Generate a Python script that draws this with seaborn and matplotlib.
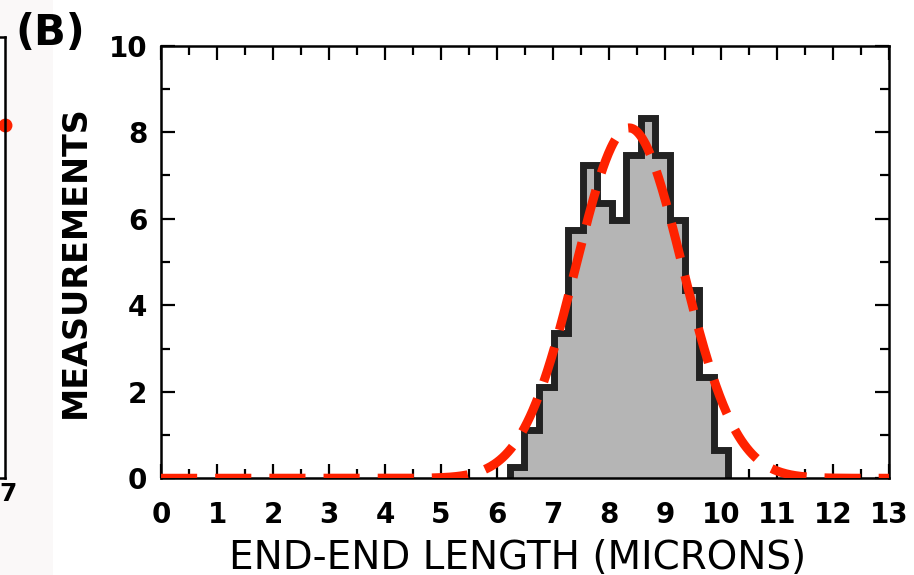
import numpy as np
import pandas as pd
import matplotlib
matplotlib.use("Agg")
import matplotlib.pyplot as plt
import matplotlib.transforms as mtransforms
from matplotlib.ticker import MultipleLocator
from matplotlib.patches import Rectangle
import seaborn as sns

# ---- data ----
bin_edges = [6.23, 6.49, 6.75, 7.01, 7.27, 7.53, 7.79, 8.05, 8.31, 8.57,
             8.83, 9.09, 9.35, 9.61, 9.87, 10.13]
counts = [0.27, 1.12, 2.12, 3.37, 5.75, 7.24, 6.37, 5.98, 7.48, 8.33,
          7.48, 5.98, 4.36, 2.35, 0.66]
# Gaussian fit parameters (red dashed curve)
fit_amplitude = 8.1
fit_mean = 8.36
fit_sigma = 0.95
x_ticks = list(range(0, 14))
y_ticks = [0, 2, 4, 6, 8, 10]
panel_label = "(B)"
x_label = "END-END LENGTH (MICRONS)"
y_label = "MEASUREMENTS"
# neighbouring (cropped) panel A
left_tick = [7]
left_point_y = [0.8]

sns.set_style("ticks")
plt.rcParams["font.family"] = ["DejaVu Sans"]
plt.rcParams["text.color"] = "black"
plt.rcParams["axes.labelcolor"] = "black"
plt.rcParams["xtick.color"] = "black"
plt.rcParams["ytick.color"] = "black"

fig = plt.figure(figsize=(9.14, 5.75), dpi=100)
fig.patches.append(Rectangle((0, 0), 53 / 914, 1, transform=fig.transFigure,
                             facecolor="#faf8f8", edgecolor="none", zorder=-5))

ax = fig.add_axes([0.1762, 0.1682, 0.7964, 0.7523])

centers = [(a + b) / 2 for a, b in zip(bin_edges[:-1], bin_edges[1:])]
df = pd.DataFrame({"length": centers, "count": counts})
sns.histplot(data=df, x="length", weights="count", bins=bin_edges,
             element="step", fill=True, color="#b5b5b5", alpha=1,
             linewidth=0, ax=ax, zorder=1)
st = ax.stairs(counts, bin_edges, baseline=0, color="#222222",
               linewidth=5, zorder=2)
st.set_joinstyle("miter")

xs = np.linspace(0, 13, 800)
ys = fit_amplitude * np.exp(-(xs - fit_mean) ** 2 / (2 * fit_sigma ** 2))
sns.lineplot(x=xs, y=ys, color="#ff2200", linewidth=6.5, ax=ax, zorder=3)
ln = ax.lines[-1]
ln.set_dashes((4, 2))
ln.set_dash_capstyle("butt")

ax.set_xlim(0, 13)
ax.set_ylim(0, 10)
ax.set_xticks(x_ticks)
ax.set_yticks(y_ticks)
ax.xaxis.set_minor_locator(MultipleLocator(0.5))
ax.yaxis.set_minor_locator(MultipleLocator(1))
ax.tick_params(which="both", direction="in", top=True, right=True,
               width=1.6, color="black", labelcolor="black")
ax.tick_params(which="major", length=10)
ax.tick_params(which="minor", length=6.5)
ax.tick_params(axis="x", which="major", pad=16, labelsize=20)
ax.tick_params(axis="y", which="major", pad=10, labelsize=20)
for lab in ax.get_xticklabels() + ax.get_yticklabels():
    lab.set_fontweight("bold")
for sp in ax.spines.values():
    sp.set_visible(True)
    sp.set_linewidth(1.8)
    sp.set_color("black")

ax.set_xlabel(x_label, fontsize=28, fontweight="normal", color="black")
ax.set_ylabel(y_label, fontsize=24, fontweight="bold", color="black")
ax.xaxis.set_label_coords(0.49, -0.14)
ax.yaxis.set_label_coords(-0.095, 0.5)

fig.text(15 / 914, 1 - 12 / 575, panel_label, ha="left", va="top",
         fontsize=30, fontweight="bold", color="black")

# cropped neighbouring panel
ax0 = fig.add_axes([-0.3, 0.1682, 0.3055, 0.9357 - 0.1682])
ax0.set_xlim(0, 7)
ax0.set_ylim(0, 1)
ax0.set_xticks(left_tick)
ax0.set_xticklabels([str(t) for t in left_tick], fontsize=18, fontweight="bold",
                    color="black")
ax0.set_yticks([])
ax0.tick_params(axis="x", direction="in", length=0, pad=3)
shift = mtransforms.ScaledTranslation(2.5 / 72, 0, fig.dpi_scale_trans)
for lab in ax0.get_xticklabels():
    lab.set_transform(lab.get_transform() + shift)
for sp in ax0.spines.values():
    sp.set_linewidth(1.8)
    sp.set_color("black")
ax0.plot(left_tick, left_point_y, "o", color="#ff2200", markersize=9,
         clip_on=False)

fig.savefig("out.png", dpi=100)
